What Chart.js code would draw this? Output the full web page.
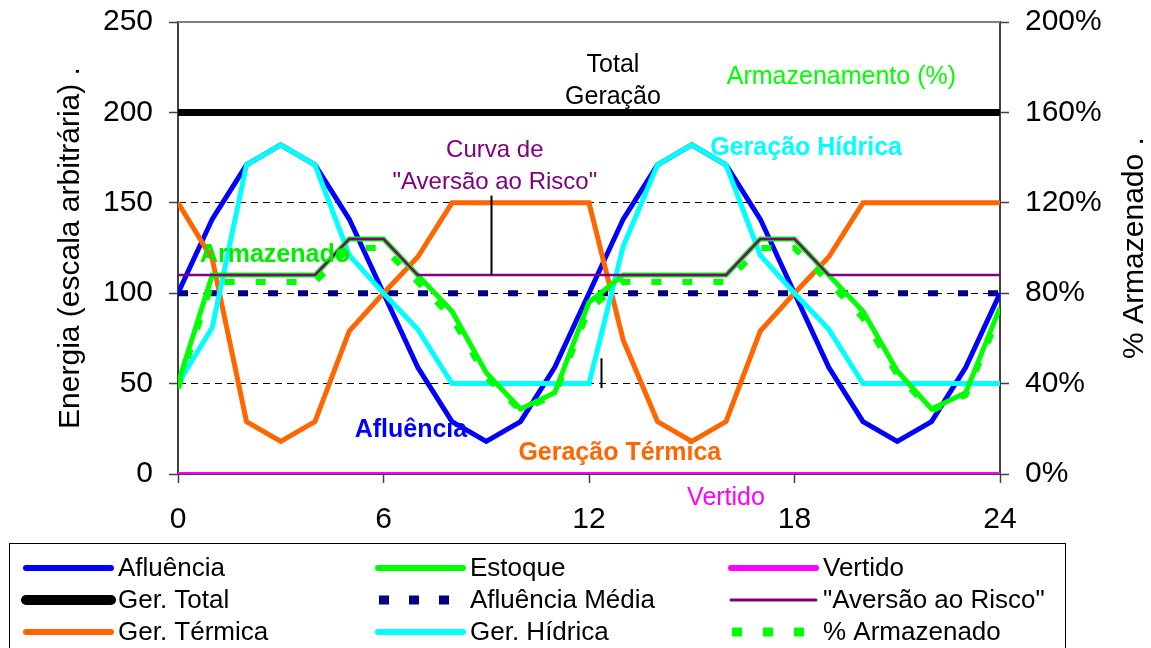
<!DOCTYPE html>
<html lang="pt-BR">
<head>
<meta charset="utf-8">
<title>Energia e Armazenamento</title>
<script src="https://cdn.jsdelivr.net/npm/chart.js@4.4.1/dist/chart.umd.min.js"></script>
<style>
  html, body { margin: 0; padding: 0; background: #fff; }
  #wrap { width: 1151px; height: 648px; }
</style>
</head>
<body>
<div id="wrap"><canvas id="grafico" width="1151" height="648"></canvas></div>
<script>
const FONTE = "'Liberation Sans', Arial, sans-serif";

// horas do ciclo (eixo x)
const horas = [0, 1, 2, 3, 4, 5, 6, 7, 8, 9, 10, 11, 12, 13, 14, 15, 16, 17, 18, 19, 20, 21, 22, 23, 24];

// séries em energia (escala arbitrária)
const afluencia      = [100, 141, 171, 182, 171, 141, 100, 59, 29, 18, 29, 59, 100, 141, 171, 182, 171, 141, 100, 59, 29, 18, 29, 59, 100];
const estoque        = [50, 110, 110, 110, 110, 130, 130, 110, 90, 56, 36, 45, 95, 110, 110, 110, 110, 130, 130, 110, 90, 57, 36, 45, 92];
const vertido        = [0, 0, 0, 0, 0, 0, 0, 0, 0, 0, 0, 0, 0, 0, 0, 0, 0, 0, 0, 0, 0, 0, 0, 0, 0];
const gerTotal       = [200, 200, 200, 200, 200, 200, 200, 200, 200, 200, 200, 200, 200, 200, 200, 200, 200, 200, 200, 200, 200, 200, 200, 200, 200];
const afluenciaMedia = [100, 100, 100, 100, 100, 100, 100, 100, 100, 100, 100, 100, 100, 100, 100, 100, 100, 100, 100, 100, 100, 100, 100, 100, 100];
const aversaoRisco   = [110, 110, 110, 110, 110, 130, 130, 110, 110, 110, 110, 110, 110, 110, 110, 110, 110, 130, 130, 110, 110, 110, 110, 110, 110];
const gerTermica     = [150, 119, 29, 18, 29, 79, 100, 120, 150, 150, 150, 150, 150, 74, 29, 18, 29, 79, 100, 120, 150, 150, 150, 150, 150];
const gerHidrica     = [50, 81, 171, 182, 171, 121, 100, 80, 50, 50, 50, 50, 50, 126, 171, 182, 171, 121, 100, 80, 50, 50, 50, 50, 50];

// % armazenado (eixo direito)
const pctArmazenado  = [38, 85, 85, 85, 85, 100, 100, 85, 69, 43, 28, 35, 73, 85, 85, 85, 85, 100, 100, 85, 69, 44, 28, 35, 71];

// marcas dos eixos
const ticksEnergia = [0, 50, 100, 150, 200, 250];
const ticksPct     = [0, 40, 80, 120, 160, 200];
const ticksHora    = [0, 6, 12, 18, 24];
const gradeEnergia = [50, 100, 150];

// textos soltos sobre o gráfico, em coordenadas de dados
const notas = [
  { t: 'Total', x: 12.7, y: 226, cor: '#000000', negrito: false },
  { t: 'Geração', x: 12.7, y: 208.5, cor: '#000000', negrito: false },
  { t: 'Armazenamento (%)', x: 19.37, y: 219.6, cor: '#00ff00', negrito: false },
  { t: 'Curva de', x: 9.25, y: 179, cor: '#800080', negrito: false, tam: 24 },
  { t: '"Aversão ao Risco"', x: 9.25, y: 161.5, cor: '#800080', negrito: false, tam: 24 },
  { t: 'Geração Hídrica', x: 18.34, y: 180, cor: '#00ffff', negrito: true },
  { t: 'Armazenado', x: 2.83, y: 121, cor: '#00ee00', negrito: true },
  { t: 'Afluência', x: 6.8, y: 24, cor: '#0000ff', negrito: true },
  { t: 'Geração Térmica', x: 12.9, y: 11.5, cor: '#ff6600', negrito: true },
  { t: 'Vertido', x: 16.0, y: -13.3, cor: '#ff00ff', negrito: false }
];
// pequenos traços indicadores
const tracos = [
  { x: 9.14, y1: 154, y2: 110 },
  { x: 12.35, y1: 64, y2: 47.5 }
];

const serie = (label, data, cor, largura, ordem, extra) =>
  Object.assign({ label, data, borderColor: cor, backgroundColor: cor, borderWidth: largura,
    pointRadius: 0, tension: 0, fill: false, order: ordem, yAxisID: 'y' }, extra || {});

const datasets = [
  serie('Afluência', afluencia, '#0000ff', 5, 6),
  serie('Estoque', estoque, '#00ff00', 5, 3),
  serie('Vertido', vertido, '#ff00ff', 4, 8),
  serie('Ger. Total', gerTotal, '#000000', 7, 9),
  serie('Afluência Média', afluenciaMedia, '#000080', 6, 7, { borderDash: [10, 20], borderCapStyle: 'butt' }),
  serie('"Aversão ao Risco"', aversaoRisco, '#800080', 2.5, 2),
  serie('Ger. Térmica', gerTermica, '#ff6600', 5, 5),
  serie('Ger. Hídrica', gerHidrica, '#00ffff', 5, 4),
  serie('% Armazenado', pctArmazenado, '#00ff00', 6, 1, { borderDash: [10, 21], borderCapStyle: 'butt', yAxisID: 'y1' })
];

// tira o espaço extra que o Chart.js reserva para meio rótulo nas pontas
const semFolga = s => { s.paddingTop = 0; s.paddingBottom = 0; s.paddingLeft = 0; s.paddingRight = 0; };

// molduras, títulos dos eixos, notas e legenda
const extras = {
  id: 'extras',
  afterDatasetsDraw(chart) {
    const { ctx, chartArea: a, scales } = chart;
    const sx = scales.x, sy = scales.y;
    ctx.save();
    ctx.strokeStyle = '#7f7f7f';
    ctx.lineWidth = 2;
    ctx.beginPath();
    ctx.moveTo(a.left, a.top);
    ctx.lineTo(a.right, a.top);
    ctx.stroke();

    ctx.strokeStyle = '#000';
    ctx.lineWidth = 2;
    tracos.forEach(tr => {
      const px = Math.round(sx.getPixelForValue(tr.x)) + 0.5;
      ctx.beginPath();
      ctx.moveTo(px, sy.getPixelForValue(tr.y1));
      ctx.lineTo(px, sy.getPixelForValue(tr.y2));
      ctx.stroke();
    });

    ctx.textAlign = 'center';
    ctx.textBaseline = 'middle';
    notas.forEach(n => {
      ctx.font = (n.negrito ? 'bold ' : '') + (n.tam || 25) + 'px ' + FONTE;
      ctx.fillStyle = n.cor;
      ctx.fillText(n.t, sx.getPixelForValue(n.x), sy.getPixelForValue(n.y));
    });
    ctx.restore();
  },
  afterDraw(chart) {
    const { ctx, chartArea: a } = chart;
    const meio = (a.top + a.bottom) / 2;
    const tituloVertical = (texto, x) => {
      ctx.save();
      ctx.fillStyle = '#000';
      ctx.font = '30px ' + FONTE;
      ctx.textAlign = 'center';
      ctx.textBaseline = 'middle';
      ctx.translate(x, meio);
      ctx.rotate(-Math.PI / 2);
      ctx.fillText(texto, 0, 0);
      ctx.restore();
    };
    tituloVertical('Energia (escala arbitrária) .', a.left - 107);
    tituloVertical('% Armazenado .', a.right + 135);

    // legenda em 3 colunas
    const colunas = [26, 378, 731];
    const linhas = [568, 600, 632];
    ctx.save();
    ctx.strokeStyle = '#000';
    ctx.lineWidth = 1;
    ctx.strokeRect(9.5, 543.5, 1056, 130);
    ctx.font = '26px ' + FONTE;
    ctx.textAlign = 'left';
    ctx.textBaseline = 'middle';
    chart.data.datasets.forEach((ds, i) => {
      const x0 = colunas[i % 3], y0 = linhas[Math.floor(i / 3)];
      ctx.strokeStyle = ds.borderColor;
      if (ds.borderDash) {
        ctx.setLineDash(ds.borderDash);
        ctx.lineCap = 'butt';
        ctx.lineWidth = 9;
      } else {
        ctx.setLineDash([]);
        ctx.lineCap = 'round';
        ctx.lineWidth = ds.borderWidth < 4 ? 3 : (ds.borderWidth >= 7 ? 10 : 6);
      }
      ctx.beginPath();
      ctx.moveTo(x0 + (ds.borderDash ? 1 : 0), y0);
      ctx.lineTo(x0 + 85, y0);
      ctx.stroke();
      ctx.fillStyle = '#000';
      ctx.fillText(ds.label, x0 + 92, y0 + 1);
    });
    ctx.restore();
  }
};

const fonteTicks = { family: FONTE, size: 30 };

new Chart(document.getElementById('grafico'), {
  type: 'line',
  data: { labels: horas, datasets },
  options: {
    responsive: false,
    animation: false,
    devicePixelRatio: 1,
    layout: { padding: { top: 22, left: 0, right: 0, bottom: 0 } },
    plugins: { legend: { display: false }, tooltip: { enabled: false } },
    scales: {
      x: {
        type: 'linear', min: 0, max: 24,
        afterBuildTicks: s => { s.ticks = ticksHora.map(v => ({ value: v })); },
        ticks: { color: '#000', font: fonteTicks, padding: 19, maxRotation: 0 },
        grid: { drawOnChartArea: false, tickLength: 9, tickColor: '#404040', tickWidth: 1.5 },
        border: { color: '#404040', width: 2 },
        afterFit: s => { s.height = 174; semFolga(s); }
      },
      y: {
        type: 'linear', position: 'left', min: 0, max: 250,
        afterBuildTicks: s => { s.ticks = ticksEnergia.map(v => ({ value: v })); },
        ticks: { color: '#000', font: fonteTicks, padding: 16 },
        grid: {
          color: c => gradeEnergia.includes(c.tick && c.tick.value) ? '#000000' : 'rgba(0,0,0,0)',
          lineWidth: 1, tickLength: 9, tickColor: '#404040', tickWidth: 1.5
        },
        border: { color: '#404040', width: 2, dash: [7, 5] },
        afterFit: s => { s.width = 178; semFolga(s); }
      },
      y1: {
        type: 'linear', position: 'right', min: 0, max: 200,
        afterBuildTicks: s => { s.ticks = ticksPct.map(v => ({ value: v })); },
        ticks: { color: '#000', font: fonteTicks, padding: 16, callback: v => v + '%' },
        grid: { drawOnChartArea: false, tickLength: 9, tickColor: '#404040', tickWidth: 1.5 },
        border: { color: '#404040', width: 2 },
        afterFit: s => { s.width = 151; semFolga(s); }
      }
    }
  },
  plugins: [extras]
});
</script>
</body>
</html>
